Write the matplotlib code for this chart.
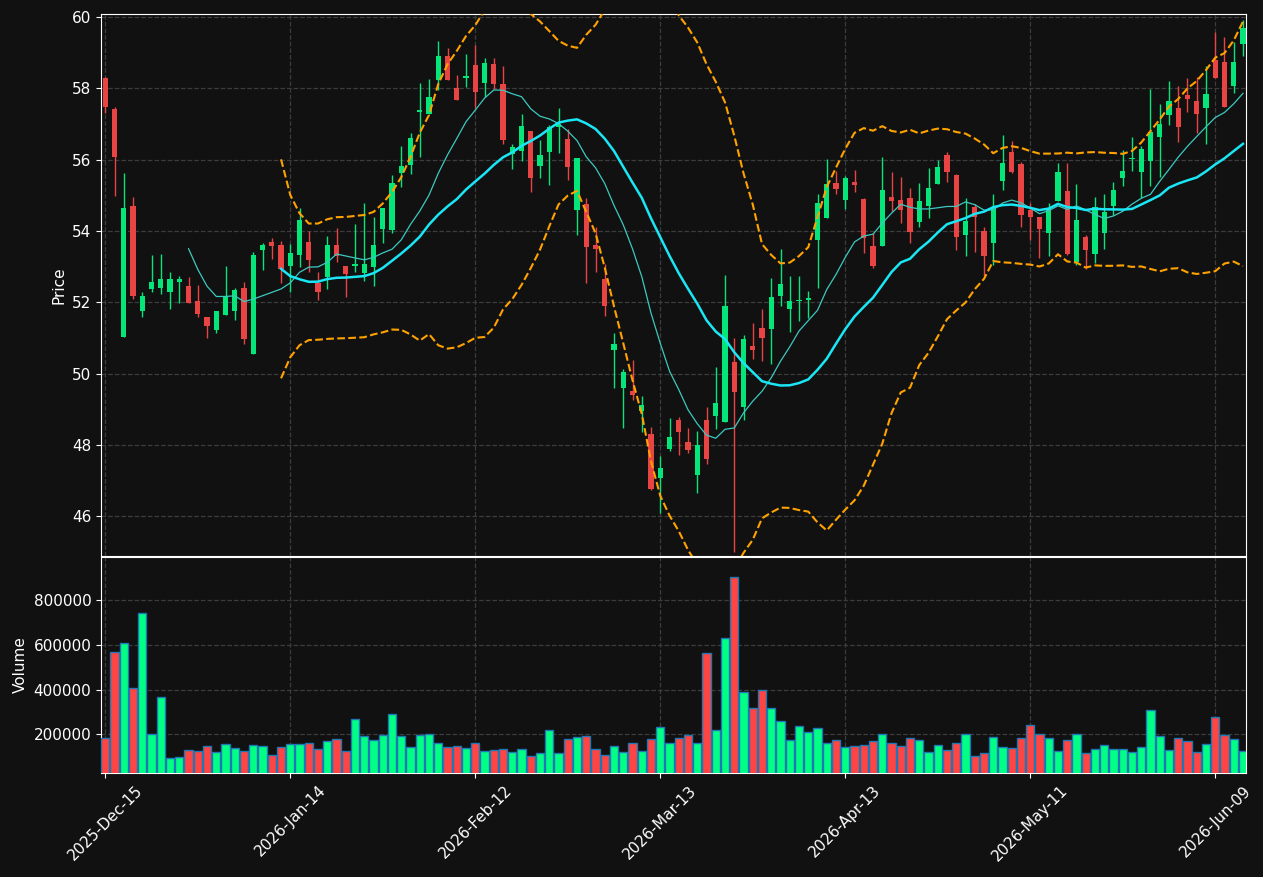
import numpy as np
import pandas as pd
import matplotlib
matplotlib.use('Agg')
import matplotlib.pyplot as plt
from matplotlib.ticker import MultipleLocator, FuncFormatter

# trading days (NYSE holidays skipped)
holidays = ['2025-12-25', '2026-01-01', '2026-01-19', '2026-02-16', '2026-04-03', '2026-05-25']
dates = pd.bdate_range('2025-12-15', '2026-06-12', freq='C', holidays=holidays)

opens = [58.29, 57.42, 51.04, 54.70, 51.77, 52.36, 52.39, 52.30, 52.58, 52.46,
         52.03, 51.59, 51.23, 51.65, 51.77, 52.41, 50.54, 53.48, 53.69, 53.61,
         53.01, 53.34, 53.69, 52.55, 52.71, 53.61, 53.02, 53.03, 52.82, 52.98,
         54.05, 54.04, 55.63, 55.86, 57.34, 57.28, 58.23, 58.89, 58.01, 58.30,
         58.66, 58.14, 58.68, 58.12, 56.15, 56.25, 56.81, 55.81, 56.20, 56.90,
         56.58, 54.60, 54.76, 53.61, 52.64, 50.67, 49.61, 49.52, 48.96, 48.31,
         47.09, 47.90, 48.70, 48.09, 47.17, 48.70, 48.82, 48.65, 50.33, 49.08,
         50.78, 51.28, 51.26, 52.19, 51.82, 52.03, 52.07, 53.76, 54.35, 55.35,
         54.88, 55.38, 54.90, 53.58, 53.58, 54.95, 54.87, 54.92, 54.24, 54.71,
         55.33, 56.13, 55.57, 53.90, 54.67, 54.00, 53.67, 55.39, 56.22, 55.88,
         54.59, 54.40, 53.93, 54.83, 55.12, 53.14, 53.83, 53.36, 53.95, 54.71,
         55.48, 56.01, 55.64, 55.97, 56.62, 57.24, 57.45, 57.82, 57.65, 57.45,
         58.79, 58.74, 58.05, 59.25]
highs = [58.32, 57.48, 55.62, 54.94, 52.28, 53.32, 53.36, 52.84, 52.73, 52.70,
         52.48, 51.59, 51.76, 53.03, 52.41, 52.56, 53.42, 53.65, 53.80, 53.71,
         53.63, 54.65, 54.01, 52.85, 53.85, 54.07, 53.02, 54.19, 54.78, 54.39,
         54.64, 55.56, 56.38, 56.75, 58.16, 58.26, 59.33, 59.12, 58.38, 58.97,
         59.20, 58.84, 58.84, 58.63, 56.44, 57.28, 56.81, 56.54, 56.98, 57.46,
         56.86, 56.05, 54.93, 54.10, 53.07, 51.13, 50.13, 50.38, 49.37, 48.51,
         47.68, 48.75, 48.78, 48.47, 48.38, 49.06, 50.18, 52.76, 50.99, 51.08,
         51.41, 51.80, 52.67, 53.49, 52.73, 52.73, 52.31, 55.03, 56.01, 55.67,
         55.54, 55.70, 54.93, 53.93, 56.06, 55.64, 55.50, 55.20, 55.35, 55.76,
         55.98, 56.21, 55.61, 54.91, 54.76, 54.10, 55.05, 56.69, 56.51, 55.93,
         54.79, 54.40, 54.79, 55.90, 55.90, 55.31, 53.90, 54.94, 55.05, 55.37,
         56.26, 56.62, 56.38, 57.99, 57.55, 58.19, 58.06, 58.28, 58.31, 58.63,
         59.59, 59.43, 59.31, 59.90]
lows = [57.31, 54.97, 51.04, 52.08, 51.58, 52.28, 52.22, 51.82, 51.97, 51.97,
        51.60, 50.99, 51.13, 51.65, 51.50, 50.82, 50.54, 52.90, 53.21, 52.55,
        52.28, 52.98, 52.85, 52.06, 52.36, 53.14, 52.14, 52.85, 52.60, 52.46,
        53.65, 53.95, 55.23, 55.59, 56.07, 57.28, 57.96, 58.22, 57.66, 58.04,
        57.45, 57.75, 57.99, 56.43, 55.73, 55.95, 55.08, 55.49, 55.28, 56.18,
        55.42, 53.88, 52.53, 52.85, 51.63, 49.61, 48.49, 49.27, 48.36, 46.75,
        46.09, 47.83, 47.73, 47.77, 46.65, 47.46, 48.44, 48.65, 44.99, 48.70,
        50.40, 50.35, 50.28, 51.91, 51.18, 51.48, 51.55, 52.41, 54.35, 55.05,
        54.61, 55.10, 53.37, 52.95, 53.58, 54.56, 54.22, 53.65, 54.12, 54.35,
        55.33, 55.37, 53.46, 53.29, 53.42, 52.75, 53.06, 55.15, 55.62, 54.10,
        53.76, 53.24, 53.29, 54.83, 53.34, 53.06, 52.93, 53.09, 53.50, 54.46,
        55.25, 55.67, 54.91, 55.25, 55.51, 56.96, 56.50, 57.33, 56.75, 56.43,
        58.29, 57.47, 57.86, 58.90]
closes = [57.48, 56.06, 54.64, 52.18, 52.18, 52.57, 52.65, 52.65, 52.65, 51.97,
          51.68, 51.35, 51.76, 52.19, 52.35, 50.96, 53.33, 53.61, 53.59, 52.93,
          53.39, 54.31, 53.20, 52.28, 53.61, 53.29, 52.78, 53.06, 53.07, 53.61,
          54.64, 55.35, 55.83, 56.61, 57.36, 57.75, 58.89, 58.22, 57.66, 58.31,
          57.90, 58.70, 58.11, 56.56, 56.35, 56.94, 55.49, 56.13, 56.91, 57.01,
          55.78, 56.05, 53.56, 53.50, 51.91, 50.82, 50.05, 49.39, 49.13, 46.77,
          47.36, 48.22, 48.37, 47.87, 48.00, 47.62, 49.18, 51.90, 49.50, 50.98,
          50.67, 50.99, 52.15, 52.51, 52.03, 52.06, 52.09, 54.79, 55.33, 55.19,
          55.48, 55.30, 53.80, 53.02, 55.15, 54.83, 54.59, 53.96, 54.84, 55.21,
          55.80, 55.66, 53.82, 54.28, 54.38, 53.31, 54.63, 55.90, 55.66, 54.44,
          54.38, 54.05, 54.65, 55.65, 53.36, 54.31, 53.47, 54.66, 54.53, 55.15,
          55.68, 56.05, 56.30, 56.77, 57.00, 57.64, 56.91, 57.70, 57.29, 57.84,
          58.29, 57.47, 58.74, 59.69]
volumes = [182000, 569000, 609000, 409000, 742000, 204000, 369000, 93000, 98000, 129000,
           124000, 147000, 120000, 156000, 138000, 124000, 151000, 147000, 107000, 142000,
           156000, 156000, 160000, 133000, 169000, 178000, 124000, 267000, 191000, 173000,
           196000, 293000, 191000, 142000, 196000, 204000, 164000, 142000, 147000, 138000,
           160000, 124000, 129000, 133000, 120000, 133000, 102000, 116000, 218000, 116000,
           178000, 187000, 191000, 133000, 107000, 147000, 120000, 164000, 124000, 178000,
           231000, 160000, 182000, 196000, 164000, 564000, 222000, 631000, 902000, 391000,
           320000, 400000, 316000, 262000, 173000, 236000, 209000, 227000, 164000, 173000,
           142000, 147000, 151000, 169000, 204000, 164000, 147000, 182000, 173000, 120000,
           151000, 129000, 160000, 200000, 102000, 116000, 187000, 142000, 138000, 182000,
           244000, 200000, 182000, 124000, 173000, 204000, 116000, 133000, 151000, 133000,
           133000, 120000, 142000, 311000, 191000, 129000, 182000, 169000, 120000, 156000,
           276000, 196000, 178000, 124000]

df = pd.DataFrame({'Open': opens, 'High': highs, 'Low': lows, 'Close': closes,
                   'Volume': volumes}, index=dates)
df['MA10'] = df['Close'].rolling(10).mean()
df['MA20'] = df['Close'].rolling(20).mean()
std20 = df['Close'].rolling(20).std(ddof=0)
df['BBU'] = df['MA20'] + 2 * std20
df['BBL'] = df['MA20'] - 2 * std20

bg = '#111111'
up_c, dn_c = '#05e67a', '#e84444'
vup_c, vdn_c = '#00ff84', '#ff4444'
grid_c = '#3c3c3c'

plt.rcParams['font.family'] = ['DejaVu Sans']
fig = plt.figure(figsize=(12.63, 8.77), dpi=100, facecolor=bg)
ax = fig.add_axes([0.0800, 0.3660, 0.9065, 0.6180])
axv = fig.add_axes([0.0800, 0.1186, 0.9065, 0.2463], sharex=ax)

x = np.arange(len(df))
up = df['Close'] >= df['Open']

for a in (ax, axv):
    a.set_facecolor(bg)
    a.grid(True, color=grid_c, linestyle='--', linewidth=0.9)
    a.set_axisbelow(True)
    for s in a.spines.values():
        s.set_color('white')
    a.tick_params(colors='white', labelsize=11)

# candles
body_lo = np.minimum(df['Open'], df['Close'])
body_h = np.maximum((df['Close'] - df['Open']).abs(), 0.04)
ccol = np.where(up, up_c, dn_c)
ax.vlines(x, df['Low'], df['High'], colors=ccol, linewidth=1.0, zorder=2)
ax.bar(x, body_h, bottom=body_lo, width=0.55, color=ccol, linewidth=0, zorder=3)

ax.plot(x, df['MA10'], color='#3cc9c0', linewidth=0.9, zorder=4)
ax.plot(x, df['MA20'], color='#1ae6f5', linewidth=1.8, zorder=4)
ax.plot(x, df['BBU'], color='#ffa200', linestyle='--', linewidth=1.5, zorder=4)
ax.plot(x, df['BBL'], color='#ffa200', linestyle='--', linewidth=1.5, zorder=4)

ax.set_ylim(44.89, 60.08)
ax.yaxis.set_major_locator(MultipleLocator(2))
ax.set_ylabel('Price', color='white', fontsize=11)
plt.setp(ax.get_xticklabels(), visible=False)
ax.tick_params(axis='x', length=0)

# volume
axv.bar(x, df['Volume'], width=0.9, color=np.where(up, vup_c, vdn_c),
        edgecolor='#1f77b4', linewidth=1.0, zorder=3)
axv.set_ylim(0.3 * df['Volume'].min(), 1.1 * df['Volume'].max())
axv.yaxis.set_major_locator(MultipleLocator(200000))
axv.yaxis.set_major_formatter(FuncFormatter(lambda v, p: f'{int(v)}'))
axv.set_ylabel('Volume', color='white', fontsize=11)

ticks = list(range(0, len(df), 20))
axv.set_xticks(ticks)
axv.set_xticklabels([dates[i].strftime('%Y-%b-%d') for i in ticks], rotation=45, ha='center')
axv.set_xlim(-0.46, 123.32)

fig.savefig('out.png', facecolor=bg)
